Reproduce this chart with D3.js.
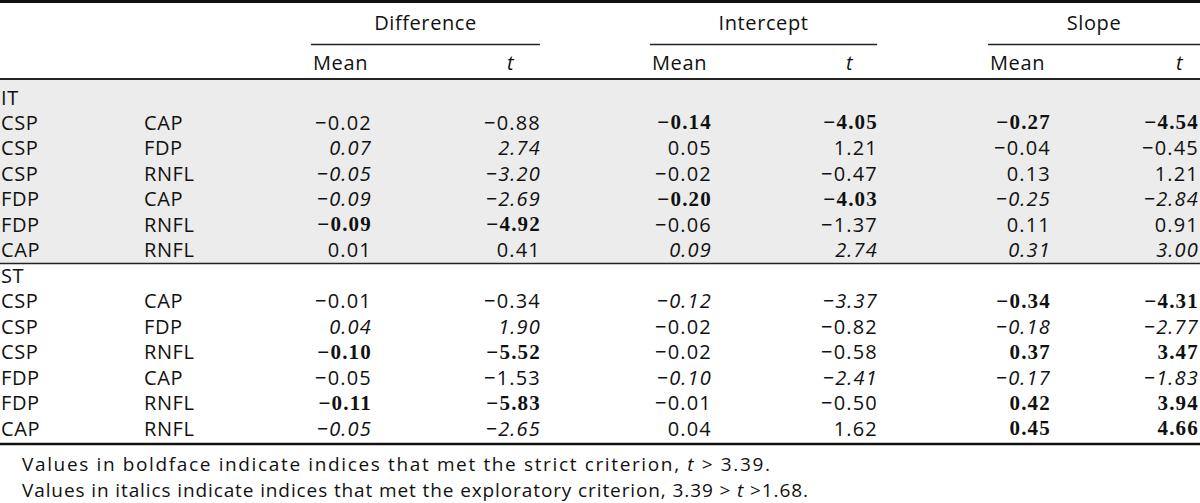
<!DOCTYPE html>
<html><head><meta charset="utf-8">
<script src="https://cdn.jsdelivr.net/npm/d3@7"></script>
<style>
html,body{margin:0;padding:0;background:#fff;}
svg{display:block;}
text{font-family:"Open Sans",Lato,sans-serif;fill:#111;}
</style></head>
<body>
<svg id="chart" width="1200" height="503"></svg>
<script>
const groups = ["Difference", "Intercept", "Slope"];
const subHeaders = ["Mean", "t"];
const blocks = ["IT", "ST"];
const pairFrom = ["CSP", "CSP", "CSP", "FDP", "FDP", "CAP"];
const pairTo = ["CAP", "FDP", "RNFL", "CAP", "RNFL", "RNFL"];
const itValues = [
  ["−0.02","−0.88","−0.14","−4.05","−0.27","−4.54"],
  ["0.07","2.74","0.05","1.21","−0.04","−0.45"],
  ["−0.05","−3.20","−0.02","−0.47","0.13","1.21"],
  ["−0.09","−2.69","−0.20","−4.03","−0.25","−2.84"],
  ["−0.09","−4.92","−0.06","−1.37","0.11","0.91"],
  ["0.01","0.41","0.09","2.74","0.31","3.00"]
];
const itStyles = [
  "nnbbbb","iinnnn","iinnnn","iibbii","bbnnnn","nniiii"
];
const stValues = [
  ["−0.01","−0.34","−0.12","−3.37","−0.34","−4.31"],
  ["0.04","1.90","−0.02","−0.82","−0.18","−2.77"],
  ["−0.10","−5.52","−0.02","−0.58","0.37","3.47"],
  ["−0.05","−1.53","−0.10","−2.41","−0.17","−1.83"],
  ["−0.11","−5.83","−0.01","−0.50","0.42","3.94"],
  ["−0.05","−2.65","0.04","1.62","0.45","4.66"]
];
const stStyles = [
  "nniibb","iinnii","bbnnbb","nniiii","bbnnbb","iinnbb"
];
const footnotes = [
  ["Values in boldface indicate indices that met the strict criterion, ", "t", " > 3.39."],
  ["Values in italics indicate indices that met the exploratory criterion, 3.39 > ", "t", " >1.68."]
];

const svg = d3.select("#chart");
const W = 1200;
const FS = "20px";
const LS = "0.6px";

const rows = [];
blocks.forEach((b, bi) => {
  rows.push({type: "block", label: b, block: bi});
  const vals = bi === 0 ? itValues : stValues;
  const sty = bi === 0 ? itStyles : stStyles;
  pairFrom.forEach((f, i) => rows.push({type: "data", from: f, to: pairTo[i], vals: vals[i], sty: sty[i], block: bi}));
});

const y = d3.scalePoint().domain(d3.range(rows.length)).range([97, 428]);
const step = y.step();

const colRight = d3.scaleOrdinal().domain(d3.range(6)).range([371, 540, 711, 877, 1050, 1198]);
const groupSpan = d3.scaleOrdinal().domain(groups).range([[311, 540], [650, 877], [988, 1200]]);
const subLeft = d3.scaleOrdinal().domain(d3.range(6)).range([313, 507, 652, 846, 990, 1176]);
const footWidth = d3.scaleOrdinal().domain([0, 1]).range([748, 786]);

svg.append("rect").attr("x", 0).attr("y", 80).attr("width", W).attr("height", y(6) + step / 2 - 80 + 1)
  .attr("fill", "#ececec");

svg.append("line").attr("x1", 0).attr("x2", W).attr("y1", 1.5).attr("y2", 1.5).attr("stroke", "#111").attr("stroke-width", 3);
svg.append("line").attr("x1", 0).attr("x2", W).attr("y1", 79).attr("y2", 79).attr("stroke", "#222").attr("stroke-width", 2.2);
svg.append("line").attr("x1", 0).attr("x2", W).attr("y1", 263.5).attr("y2", 263.5).attr("stroke", "#222").attr("stroke-width", 1.5);
svg.append("line").attr("x1", 0).attr("x2", W).attr("y1", 444).attr("y2", 444).attr("stroke", "#111").attr("stroke-width", 2.6);

groups.forEach(g => {
  const [a, b] = groupSpan(g);
  svg.append("text").attr("x", (a + b) / 2).attr("y", 22).attr("dominant-baseline", "central")
    .attr("text-anchor", "middle").style("font-size", FS).style("letter-spacing", LS).text(g);
  svg.append("line").attr("x1", a).attr("x2", b).attr("y1", 44.5).attr("y2", 44.5).attr("stroke", "#222").attr("stroke-width", 1.3);
});
d3.range(6).forEach(c => {
  const isT = c % 2 === 1;
  svg.append("text").attr("x", subLeft(c)).attr("y", 62).attr("dominant-baseline", "central")
    .style("font-size", FS).style("letter-spacing", LS).style("font-style", isT ? "italic" : "normal")
    .text(subHeaders[c % 2]);
});

const rg = svg.selectAll("g.row").data(rows).join("g").attr("class", "row")
  .attr("transform", (d, i) => `translate(0,${y(i)})`);

rg.filter(d => d.type === "block").append("text").attr("x", 1).attr("dominant-baseline", "central")
  .style("font-size", FS).style("letter-spacing", LS).text(d => d.label);

const dr = rg.filter(d => d.type === "data");
dr.append("text").attr("x", 1).attr("dominant-baseline", "central").style("font-size", FS).style("letter-spacing", LS).text(d => d.from);
dr.append("text").attr("x", 144).attr("dominant-baseline", "central").style("font-size", FS).style("letter-spacing", LS).text(d => d.to);
dr.selectAll("text.val").data(d => d.vals.map((v, c) => ({v, c, s: d.sty[c]}))).join("text")
  .attr("class", "val")
  .attr("x", d => colRight(d.c) + 1).attr("text-anchor", "end").attr("dominant-baseline", "central")
  .style("font-size", d => d.s === "b" ? "21px" : FS)
  .style("letter-spacing", "1.2px")
  .style("font-weight", d => d.s === "b" ? "bold" : "normal")
  .style("font-style", d => d.s === "i" ? "italic" : "normal")
  .style("font-family", d => d.s === "b" ? "'Liberation Serif',serif" : null)
  .text(d => d.v);

footnotes.forEach((parts, i) => {
  const t = svg.append("text").attr("x", 22).attr("y", 471 + i * 26)
    .style("font-size", "19px")
    .attr("textLength", footWidth(i)).attr("lengthAdjust", "spacing");
  parts.forEach((p, j) => {
    t.append("tspan").style("font-style", j === 1 ? "italic" : "normal").text(p);
  });
});
</script>
</body></html>
